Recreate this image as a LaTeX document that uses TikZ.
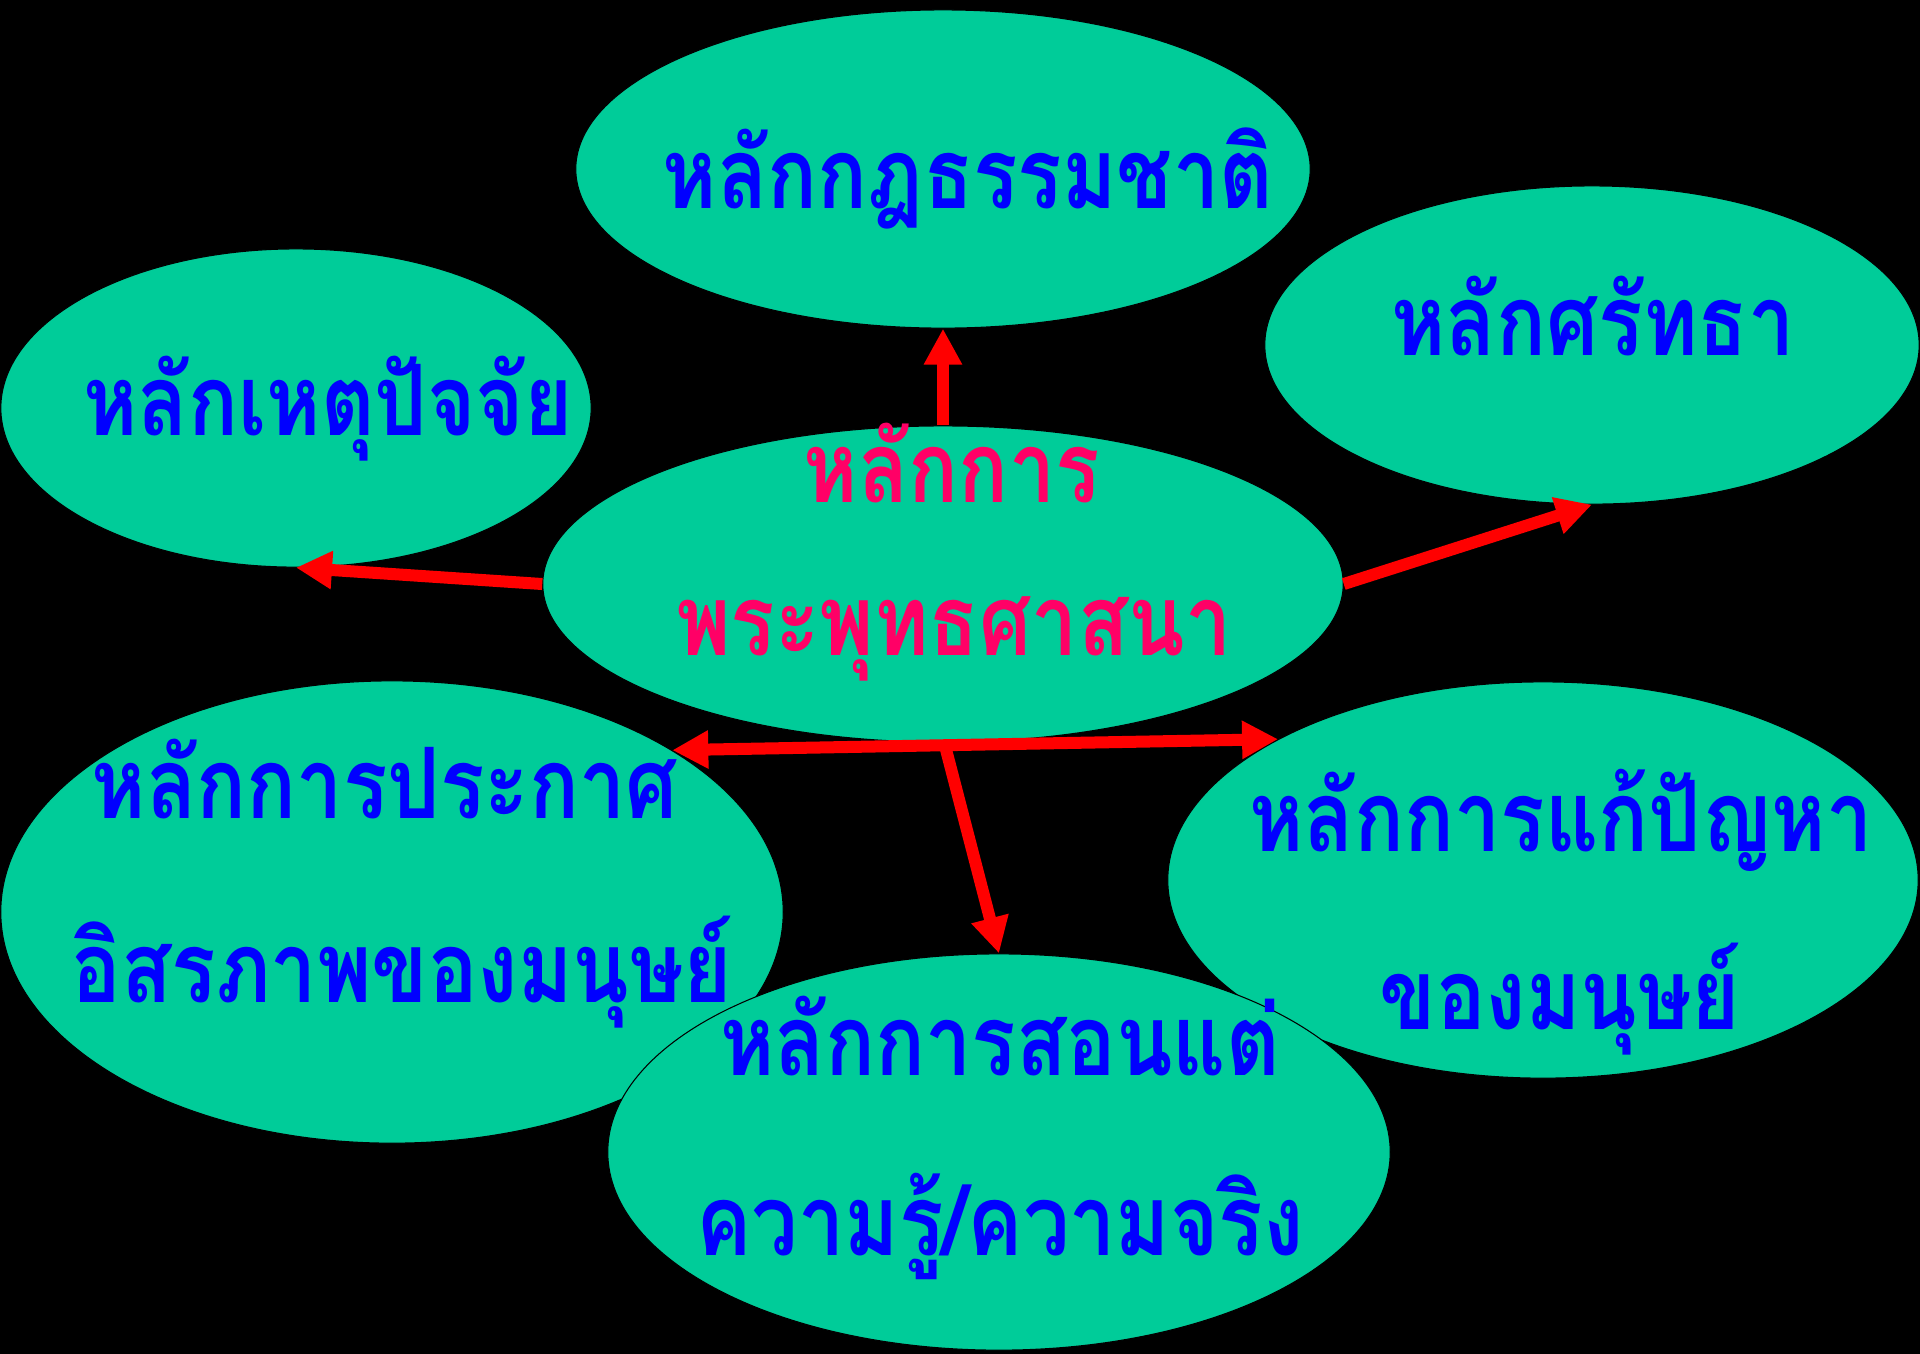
\documentclass[tikz,border=0pt]{standalone}
\usepackage{fontspec}
\newfontfamily\thaifont[Script=Thai,FakeStretch=0.84]{Loma}
\usetikzlibrary{calc,arrows.meta,shapes.geometric}
\definecolor{bubblegreen}{HTML}{00CC99}
\definecolor{topicblue}{HTML}{0000FF}
\definecolor{corepink}{HTML}{FF0066}
\definecolor{linkred}{HTML}{FF0000}

\begin{document}
\begin{tikzpicture}[x=0.01cm, y=-0.01cm,
	bubble/.style={ellipse, draw=black, line width=0.3pt, fill=bubblegreen, inner sep=0pt},
	topic/.style={anchor=base, inner sep=0pt, text=topicblue, font=\thaifont\bfseries\fontsize{28}{34}\selectfont},
	coretext/.style={topic, text=corepink},
	link/.style={draw=linkred, line width=0.12cm, -{Triangle[length=0.36cm,width=0.36cm]}}]
			%%%%% START %%%%%
			
			\useasboundingbox (0, 0) rectangle (1920, 1353);
			\fill[black] (-10, -10) rectangle (1930, 1363);
			
			\node[bubble, minimum width=7.34cm, minimum height=3.18cm] (nature) at (943, 169) {};
			\node[topic] (nature-t) at (968, 208) {หลักกฎธรรมชาติ};
			
			\node[bubble, minimum width=6.54cm, minimum height=3.18cm] (faith) at (1592, 345) {};
			\node[topic] (faith-t) at (1593, 355) {หลักศรัทธา};
			
			\node[bubble, minimum width=5.90cm, minimum height=3.18cm] (cause) at (296, 408) {};
			\node[topic] (cause-t) at (328, 435) {หลักเหตุปัจจัย};
			
			\node[bubble, minimum width=8.00cm, minimum height=3.16cm] (core) at (943, 584) {};
			\node[coretext] (core-a) at (952, 502) {หลักการ};
			\node[coretext] (core-b) at (954, 655) {พระพุทธศาสนา};
			
			\node[bubble, minimum width=7.82cm, minimum height=4.62cm] (freedom) at (392, 912) {};
			\node[topic] (freedom-a) at (385, 818) {หลักการประกาศ};
			\node[topic] (freedom-b) at (402, 1002) {อิสรภาพของมนุษย์};
			
			\node[bubble, minimum width=7.50cm, minimum height=3.96cm] (problem) at (1543, 880) {};
			\node[topic] (problem-a) at (1561, 851) {หลักการแก้ปัญหา};
			\node[topic] (problem-b) at (1560, 1029) {ของมนุษย์};
			
			\node[bubble, minimum width=7.82cm, minimum height=3.96cm] (truth) at (999, 1152) {};
			\node[topic] (truth-a) at (1000, 1075) {หลักการสอนแต่};
			\node[topic] (truth-b) at (1000, 1255) {ความรู้/ความจริง};
			
			% arrows out of the core
			\draw[link] (core.north) -- (nature.south);
			\draw[link] (core.west) -- (cause.south);
			\draw[link] (core.east) -- (faith.south);
			\draw[link, {Triangle[length=0.36cm,width=0.36cm]}-{Triangle[length=0.36cm,width=0.36cm]}] (freedom.30) -- (problem.152);
			\coordinate (split) at ($(freedom.30)!0.45!(problem.152)$);
			\draw[link] (split) -- (truth.north);
			
			%%%%% END %%%%%
\end{tikzpicture}
\end{document}
